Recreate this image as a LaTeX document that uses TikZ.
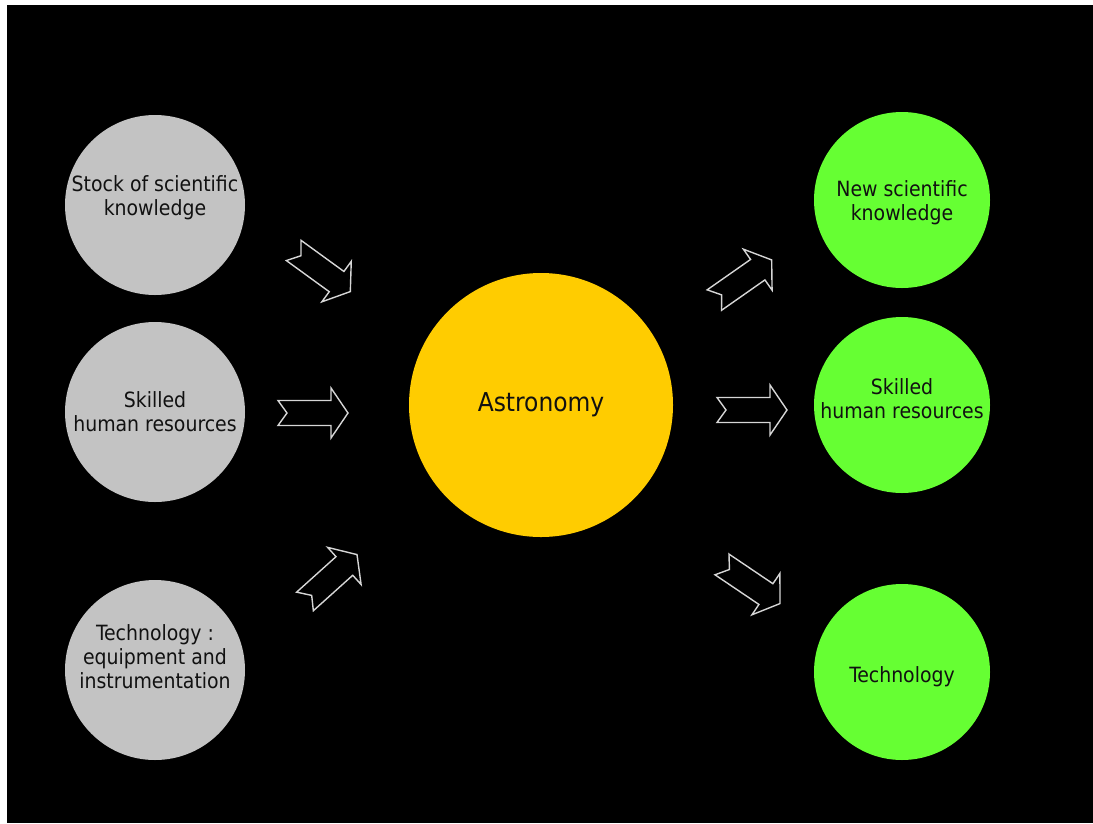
\documentclass[tikz,border=0pt]{standalone}
\usepackage{fontspec}
\setmainfont{DejaVu Sans Condensed}
\usetikzlibrary{positioning}

\definecolor{inputgray}{HTML}{C3C3C3}
\definecolor{coreyellow}{HTML}{FFCC00}
\definecolor{outgreen}{HTML}{66FF33}
\definecolor{outline}{HTML}{D6D6D6}
\definecolor{textdark}{HTML}{111111}

\tikzset{
  input/.style={circle,fill=inputgray,minimum size=180pt,inner sep=0pt},
  output/.style={circle,fill=outgreen,minimum size=176pt,inner sep=0pt},
  core/.style={circle,fill=coreyellow,minimum size=264pt,inner sep=0pt,
    text=textdark,font=\fontsize{26}{30}\selectfont},
  caption/.style={align=center,inner sep=0pt,text=textdark,
    font=\fontsize{21}{24}\selectfont},
  flow/.pic={\draw[draw=outline,line width=1.4pt,line join=miter]
    (-35,-12.5) -- (-26,0) -- (-35,12.5) -- (18,12.5) -- (18,25) -- (35,0)
    -- (18,-25) -- (18,-12.5) -- cycle;}
}

\begin{document}
\begin{tikzpicture}[x=1pt,y=-1pt]

                \useasboundingbox (0,0) rectangle (1093,823);
                \fill[black] (7,5) rectangle (1093,823);

                % inputs
                \node[input,label={[caption,yshift=7pt]center:Stock of scientific\\knowledge}] (stock) at (155,205) {};
                \node[input,label={[caption]center:Skilled\\human resources}] (skills) at (155,412) {};
                \node[input,label={[caption,yshift=13pt]center:Technology :\\equipment and\\instrumentation}] (tech) at (155,670) {};

                \node[core] (astro) at (541,405) {Astronomy};

                % outputs
                \node[output,label={[caption,yshift=-3pt]center:New scientific\\knowledge}] (newsci) at (902,200) {};
                \node[output,label={[caption,yshift=6pt]center:Skilled\\human resources}] (newskills) at (902,405) {};
                \node[output,label={[caption,yshift=-5pt]center:Technology}] (newtech) at (902,672) {};

                % block arrows
                \pic[rotate=-36] (instock) at (322,271) {flow};
                \pic (inskills) at (313,413) {flow};
                \pic[rotate=42] (intech) at (331,578) {flow};
                \pic[rotate=35] (outsci) at (743,280) {flow};
                \pic (outskills) at (752,410) {flow};
                \pic[rotate=-34] (outtech) at (751,584) {flow};

            \end{tikzpicture}
\end{document}
